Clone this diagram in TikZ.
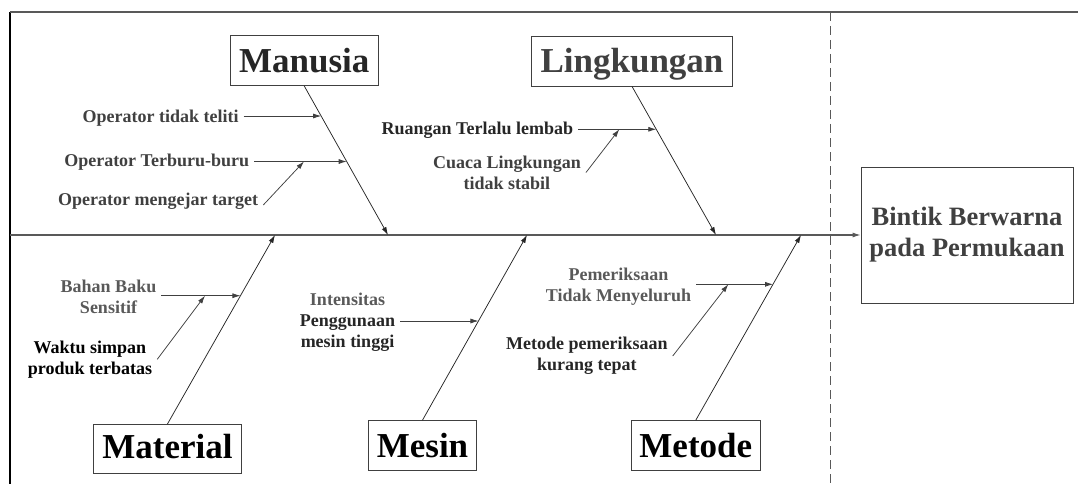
\documentclass[tikz,border=0pt]{standalone}
\usepackage{fontspec}
\setmainfont{Liberation Serif}
\usetikzlibrary{arrows.meta}
\definecolor{ink}{HTML}{262626}
\definecolor{dgray}{HTML}{404040}
\definecolor{mgray}{HTML}{595959}
\begin{document}
\begin{tikzpicture}[x=1pt,y=-1pt,
  bigbox/.style={draw=dgray, line width=0.8pt, inner sep=0pt,
    font=\fontsize{35}{40}\selectfont\bfseries, text height=24pt, text depth=0pt},
  lab/.style={font=\fontsize{18}{21}\selectfont\bfseries, align=center,
    inner xsep=5pt, inner ysep=0pt},
  arr/.style={-{Latex[length=8pt,width=5pt]}},
  bone/.style={arr, draw=ink, line width=0.75pt},
  subarr/.style={arr, draw=dgray, line width=0.75pt}
]
\useasboundingbox (0,0) rectangle (1078,484);
% frame
\draw[black, line width=1.6pt] (10,484) -- (10,12);
\draw[mgray, line width=1.2pt] (10,12) -- (1078,12);
\draw[mgray, line width=0.9pt, dash pattern=on 9pt off 5pt] (830,12) -- (830,484);

% effect box
\node[draw=dgray, line width=0.8pt, minimum width=212pt, minimum height=136pt,
  align=center, text=dgray, font=\fontsize{26.5}{31}\selectfont\bfseries]
  (effect) at (967,235) {Bintik Berwarna\\pada Permukaan};

% spine
\coordinate (spineS) at (10,235);
\draw[arr, draw=mgray, line width=1.1pt] (spineS) -- (effect.west);

% category boxes
\node[bigbox, minimum width=148pt, minimum height=50pt, text=ink] (manusia) at (304.2,60.5) {Manusia};
\node[bigbox, minimum width=200.6pt, minimum height=50pt, text=dgray] (lingk) at (632,61) {Lingkungan};
\node[bigbox, minimum width=148.4pt, minimum height=49pt, text=black, text height=19pt] (material) at (167.5,448.8) {Material};
\node[bigbox, minimum width=108.4pt, minimum height=49.5pt, text=black] (mesin) at (422.5,445.3) {Mesin};
\node[bigbox, minimum width=129.7pt, minimum height=49.5pt, text=black] (metode) at (695.8,445.3) {Metode};

% spine end points of bones
\coordinate (manE) at (388,235);
\coordinate (linE) at (716,235);
\coordinate (matE) at (275,235);
\coordinate (mesE) at (527,235);
\coordinate (metE) at (801,235);

\draw[bone] (manusia.south) -- (manE);
\draw[bone] (lingk.south) -- (linE);
\draw[bone] (material.north) -- (matE);
\draw[bone] (mesin.north) -- (mesE);
\draw[bone] (metode.north) -- (metE);

% points on bones
\coordinate (m1) at (intersection of manusia.south--manE and 0,116--1000,116);
\coordinate (m2) at (intersection of manusia.south--manE and 0,161.5--1000,161.5);
\coordinate (m3) at (304,161.5);
\coordinate (l1) at (intersection of lingk.south--linE and 0,129.3--1000,129.3);
\coordinate (l2) at (619.3,129.3);
\coordinate (b1) at (intersection of material.north--matE and 0,295.7--1000,295.7);
\coordinate (b2) at (205,295.7);
\coordinate (s1) at (intersection of mesin.north--mesE and 0,321--1000,321);
\coordinate (t1) at (intersection of metode.north--metE and 0,284.3--1000,284.3);
\coordinate (t2) at (728.3,284.3);

% Manusia causes
\node[lab, anchor=base east, text=dgray] (op1) at (243.7,122) {Operator tidak teliti};
\node[lab, anchor=base east, text=dgray] (op2) at (254.3,166.7) {Operator Terburu-buru};
\node[lab, anchor=base east, text=dgray] (op3) at (263.3,205) {Operator mengejar target};
\draw[subarr] (op1.east |- m1) -- (m1);
\draw[subarr] (op2.east |- m2) -- (m2);
\draw[subarr] (op3.base east) -- (m3);

% Lingkungan causes
\node[lab, anchor=base east, text=ink] (ru) at (578.3,134.3) {Ruangan Terlalu lembab};
\node[lab, text=dgray] (cu) at (507,172.5) {Cuaca Lingkungan\\tidak stabil};
\draw[subarr] (ru.east |- l1) -- (l1);
\draw[subarr] (cu.east) -- (l2);

% Material causes
\node[lab, text=mgray] (ba) at (108.5,297.3) {Bahan Baku\\Sensitif};
\node[lab, text=black] (wa) at (90,359.3) {Waktu simpan\\produk terbatas};
\draw[subarr] (ba.east |- b1) -- (b1);
\draw[subarr] (wa.east) -- (b2);

% Mesin cause
\node[lab, text=ink] (in) at (347.5,322) {\textcolor{mgray}{Intensitas}\\Penggunaan\\mesin tinggi};
\draw[subarr] (in.east |- s1) -- (s1);

% Metode causes
\node[lab, text=mgray] (pe) at (618.5,286.8) {Pemeriksaan\\Tidak Menyeluruh};
\node[lab, text=ink] (mp) at (586.8,356) {Metode pemeriksaan\\kurang tepat};
\draw[subarr] (pe.east |- t1) -- (t1);
\draw[subarr] (mp.east) -- (t2);
\end{tikzpicture}
\end{document}
